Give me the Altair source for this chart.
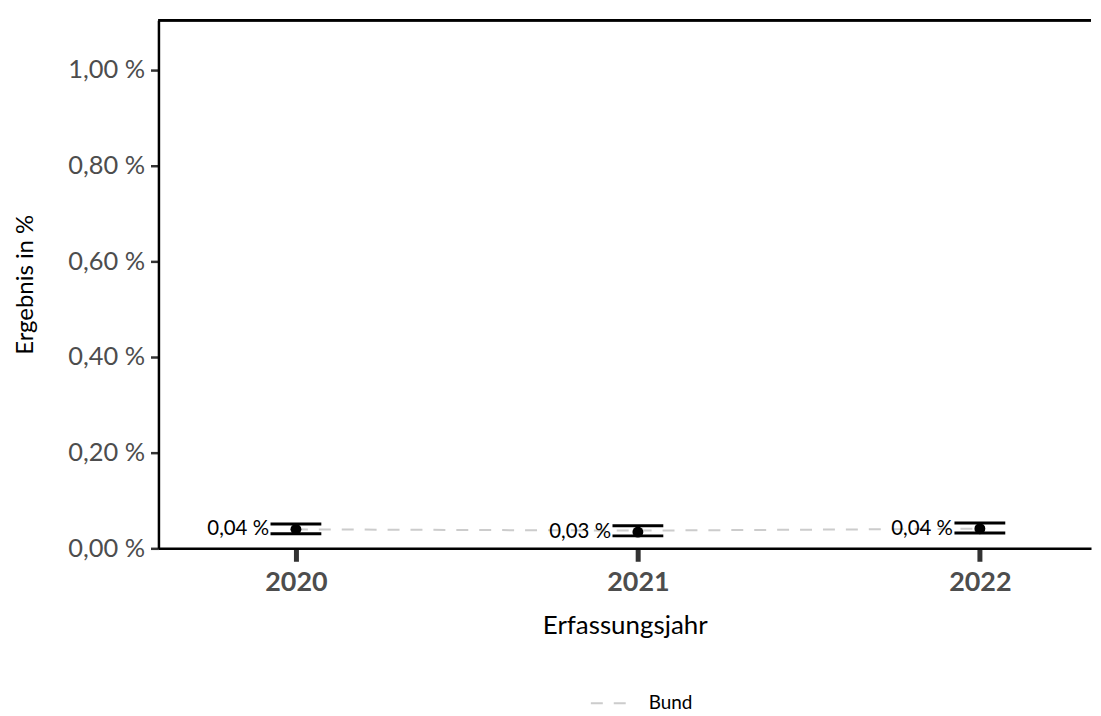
import altair as alt
import pandas as pd

years = [2020, 2021, 2022]
values = [0.0396, 0.034, 0.041]
lower = [0.0306, 0.026, 0.0319]
upper = [0.0506, 0.047, 0.0527]
bund = [0.0396, 0.037, 0.041]
series = ["Bund", "Bund", "Bund"]
y_ticks = [0.0, 0.2, 0.4, 0.6, 0.8, 1.0]

FONT = "Lato"
W, H = 936, 530

df = pd.DataFrame({"year": years, "value": values, "lower": lower, "upper": upper})
dfb = pd.DataFrame({"year": years, "bund": bund, "series": series})

xscale = alt.Scale(domain=[2019.598, 2022.325], nice=False, zero=False)
yscale = alt.Scale(domain=[0, 1.104], nice=False)

xaxis = alt.Axis(values=years, format="d", title="Erfassungsjahr", grid=False,
                 labelFontWeight="bold", labelFontSize=27, labelColor="#4d4d4d",
                 labelPadding=8, tickSize=13, tickWidth=5, tickColor="#333333",
                 domainColor="black", domainWidth=2.5, titleFontSize=26,
                 titleFontWeight="normal", titleColor="black", titlePadding=18,
                 labelFont=FONT, titleFont=FONT)
yaxis = alt.Axis(values=y_ticks, title="Ergebnis in %", grid=False,
                 labelExpr="replace(format(datum.value, '.2f'), '.', ',') + ' %'",
                 labelFontSize=25.5, labelColor="#4d4d4d", labelPadding=6,
                 tickSize=8, tickWidth=2.5, tickColor="#333333",
                 domainColor="black", domainWidth=2.5, titleFontSize=24,
                 titleFontWeight="normal", titleColor="black", titlePadding=30,
                 labelFont=FONT, titleFont=FONT)

line = alt.Chart(dfb).mark_line(strokeDash=[12, 11], strokeWidth=2).encode(
    x=alt.X("year:Q", scale=xscale, axis=xaxis),
    y=alt.Y("bund:Q", scale=yscale, axis=yaxis),
    color=alt.Color("series:N", scale=alt.Scale(domain=["Bund"], range=["#cccccc"]),
                    legend=alt.Legend(title=None, orient="none", legendX=433, legendY=667,
                                      symbolType="stroke", symbolDash=[12, 11],
                                      symbolStrokeWidth=2, symbolSize=1225,
                                      labelFontSize=19, labelColor="black", labelFont=FONT,
                                      labelOffset=22)),
)

base = alt.Chart(df).encode(x=alt.X("year:Q", scale=xscale))

vrule = base.mark_rule(color="black", strokeWidth=2).encode(
    y=alt.Y("lower:Q", scale=yscale), y2="upper:Q")
cap_lo = base.mark_tick(color="black", orient="horizontal", size=51, thickness=3,
                        opacity=1).encode(y=alt.Y("lower:Q", scale=yscale))
cap_hi = base.mark_tick(color="black", orient="horizontal", size=51, thickness=3,
                        opacity=1).encode(y=alt.Y("upper:Q", scale=yscale))
pts = base.mark_circle(color="black", size=120, opacity=1).encode(
    y=alt.Y("value:Q", scale=yscale))
labels = base.transform_calculate(
    lab="replace(format(datum.value, '.2f'), '.', ',') + ' %'"
).mark_text(align="right", baseline="middle", dx=-27, fontSize=20.5, font=FONT,
            color="black").encode(
    y=alt.Y("value:Q", scale=yscale), text="lab:N")

top = alt.Chart(df).mark_rule(color="black", strokeWidth=2.5).encode(
    y=alt.value(0), x=alt.value(0), x2=alt.value(W))

chart = alt.layer(line, vrule, cap_lo, cap_hi, pts, labels, top).properties(
    width=W, height=H,
    padding={"left": 5, "top": 9, "right": 0, "bottom": 0},
).configure(font=FONT).configure_view(stroke="transparent", strokeWidth=0)

chart.save("out.html", embed_options={"renderer": "svg", "actions": False})
